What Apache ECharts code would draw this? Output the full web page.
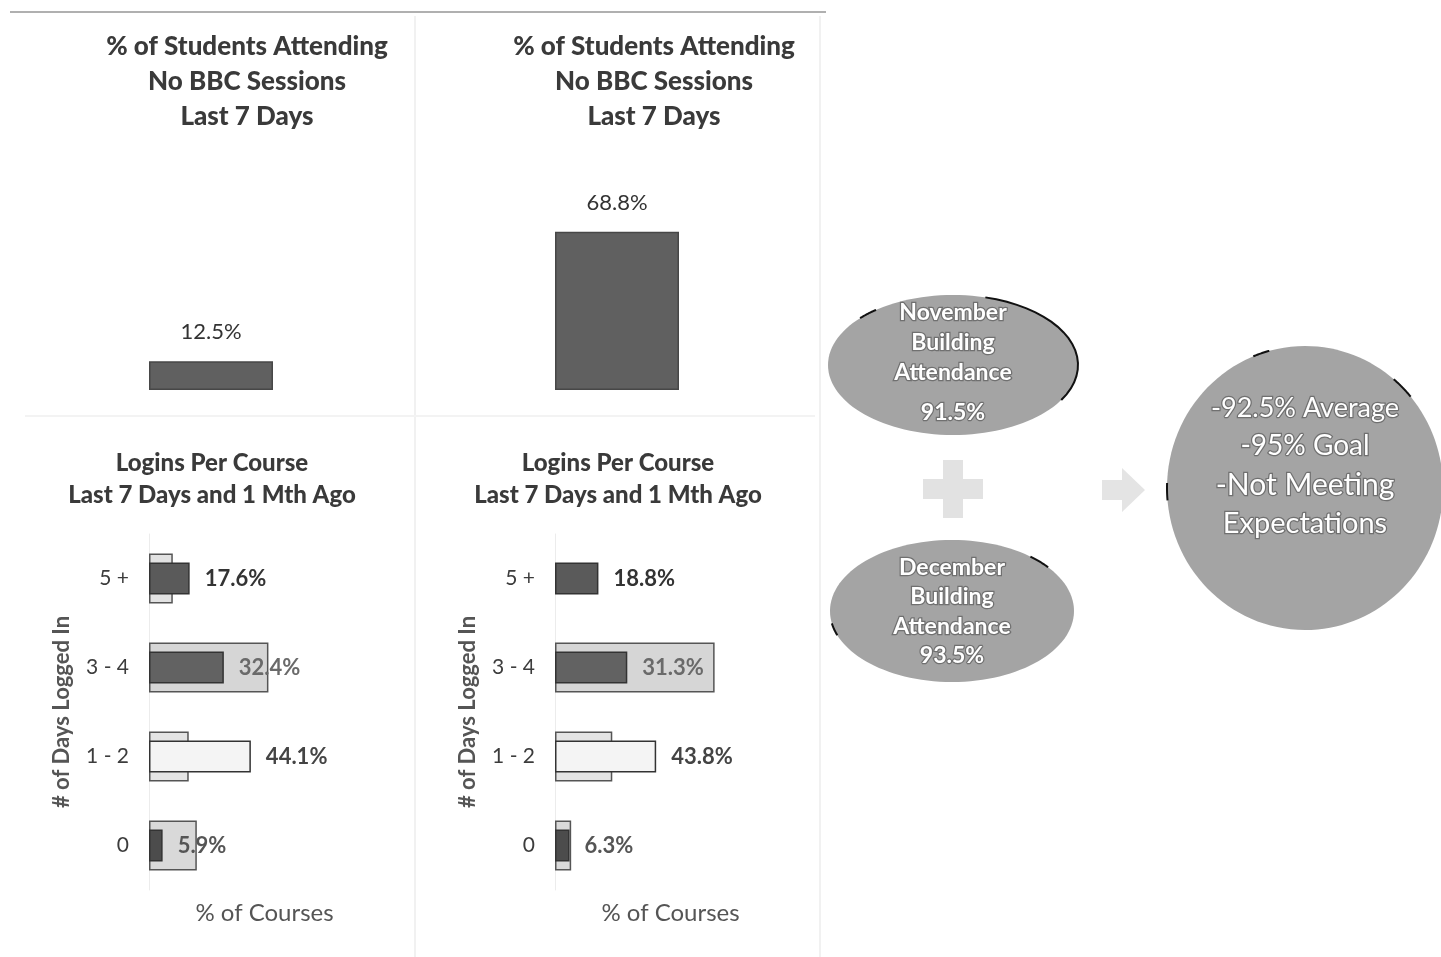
<!DOCTYPE html>
<html>
<head>
<meta charset="utf-8">
<script src="https://cdn.jsdelivr.net/npm/echarts@6/dist/echarts.min.js"></script>
<style>
html,body{margin:0;padding:0;background:#fff;}
#main{width:1441px;height:957px;}
</style>
</head>
<body>
<div id="main"></div>
<script>
// ---- data ----
const noBbcCategory = ['Last 7 Days'];
const noBbcLeft = [12.5];
const noBbcRight = [68.8];
const loginCats = ['5 +', '3 - 4', '1 - 2', '0'];
const leftLast7 = [17.6, 32.4, 44.1, 5.9];
const leftMonthAgo = [10.3, 51.7, 17.2, 20.7];
const rightLast7 = [18.8, 31.3, 43.8, 6.3];
const rightMonthAgo = [0, 69.1, 24.8, 7.0];
const topTitle = '% of Students Attending\nNo BBC Sessions\nLast 7 Days';
const bottomTitle = 'Logins Per Course\nLast 7 Days and 1 Mth Ago';
const novText = ['November', 'Building', 'Attendance', '91.5%'];
const decText = ['December', 'Building', 'Attendance', '93.5%'];
const summaryText = ['-92.5% Average', '-95% Goal', '-Not Meeting', 'Expectations'];

const FONT = 'Lato, "Open Sans", sans-serif';
const frontColors = ['#5a5a5a', '#626262', '#f4f4f4', '#4c4c4c'];
const backColors = ['#e2e2e2', '#d6d6d6', '#e4e4e4', '#d9d9d9'];
const labelColors = ['#333', '#6a6a6a', '#444', '#555'];

const chart = echarts.init(document.getElementById('main'));

function topGrid(left) { return {left: left, width: 242, top: 160, height: 230}; }
function bottomGrid(left) { return {left: left, width: 231, top: 534, height: 356}; }

const titleStyle = (size, lh) => ({fontFamily: FONT, fontWeight: 900, fontSize: size, color: '#3a3a3a', lineHeight: lh});
const titles = [
  {text: topTitle, left: 242, top: 24, textAlign: 'center', textStyle: titleStyle(26, 35)},
  {text: topTitle, left: 649, top: 24, textAlign: 'center', textStyle: titleStyle(26, 35)},
  {text: bottomTitle, left: 207, top: 442, textAlign: 'center', textStyle: titleStyle(24, 32)},
  {text: bottomTitle, left: 613, top: 442, textAlign: 'center', textStyle: titleStyle(24, 32)}
];

const grids = [topGrid(90), topGrid(496), bottomGrid(149), bottomGrid(555)];

const xAxes = [], yAxes = [];
// top charts
[0, 1].forEach(g => {
  xAxes.push({type: 'category', gridIndex: g, data: noBbcCategory, show: false});
  yAxes.push({type: 'value', gridIndex: g, min: 0, max: 100, show: false});
});
// bottom charts: value x axis, two category y axes (front/back) each
[2, 3].forEach(g => {
  xAxes.push({
    type: 'value', gridIndex: g, min: 0, max: 100,
    axisLine: {show: false}, axisTick: {show: false}, axisLabel: {show: false}, splitLine: {show: false},
    name: '% of Courses', nameLocation: 'middle', nameGap: 11,
    nameTextStyle: {fontFamily: FONT, fontSize: 24, color: '#555'}
  });
  yAxes.push({
    type: 'category', gridIndex: g, data: loginCats, inverse: true,
    axisLine: {show: true, lineStyle: {color: '#ececec', width: 1}},
    axisTick: {show: false},
    axisLabel: {fontFamily: FONT, fontSize: 21, color: '#3c3c3c', margin: 20},
    name: '# of Days Logged In', nameLocation: 'middle', nameGap: 76, nameRotate: 90,
    nameTextStyle: {fontFamily: FONT, fontSize: 22, fontWeight: 'bold', color: '#555'}
  });
  yAxes.push({type: 'category', gridIndex: g, data: loginCats, inverse: true, show: false});
});
// yAxis indices: 0 top-left, 1 top-right, 2 bl-front, 3 bl-back, 4 br-front, 5 br-back

function topSeries(idx, data) {
  return {
    type: 'bar', xAxisIndex: idx, yAxisIndex: idx, data: data, barWidth: 124,
    itemStyle: {color: '#606060', borderColor: '#474747', borderWidth: 1.5},
    label: {show: true, position: 'top', distance: 18, fontFamily: FONT, fontSize: 22, color: '#333',
      formatter: p => p.value.toFixed(1) + '%'}
  };
}

function backSeries(xi, yi, data) {
  return {
    type: 'bar', xAxisIndex: xi, yAxisIndex: yi, barWidth: 50, z: 2,
    data: data.map((v, i) => ({value: v, itemStyle: {color: backColors[i], borderColor: '#555', borderWidth: v > 0 ? 1.5 : 0}})),
    label: {show: false}
  };
}
function frontSeries(xi, yi, data) {
  return {
    type: 'bar', xAxisIndex: xi, yAxisIndex: yi, barWidth: 32, z: 3,
    data: data.map((v, i) => ({
      value: v,
      itemStyle: {color: frontColors[i], borderColor: '#333', borderWidth: 1.5},
      label: {color: labelColors[i]}
    })),
    label: {show: true, position: 'right', distance: 15, fontFamily: FONT, fontSize: 22, fontWeight: 'bold',
      formatter: p => p.value.toFixed(1) + '%'}
  };
}

const series = [
  topSeries(0, noBbcLeft),
  topSeries(1, noBbcRight),
  backSeries(2, 3, leftMonthAgo),
  frontSeries(2, 2, leftLast7),
  backSeries(3, 5, rightMonthAgo),
  frontSeries(3, 4, rightLast7)
];

// ---- decorative shapes (right panel, separators) ----
function ellipseArc(cx, cy, rx, ry, a0, a1) {
  const pts = [];
  for (let k = 0; k <= 20; k++) {
    const a = (a0 + (a1 - a0) * k / 20) * Math.PI / 180;
    pts.push([cx + rx * Math.cos(a), cy + ry * Math.sin(a)]);
  }
  return {type: 'polyline', shape: {points: pts}, style: {stroke: '#111', lineWidth: 2, fill: null}, z: 20};
}
function lineTexts(lines, x, ys, sizes, weight) {
  return lines.map((t, i) => ({
    type: 'text', x: x, y: ys[i], z: 30,
    style: {text: t, fill: '#fff', stroke: '#707070', lineWidth: 2.5,
      font: weight + ' ' + (Array.isArray(sizes) ? sizes[i] : sizes) + 'px ' + FONT,
      align: 'center', verticalAlign: 'middle'}
  }));
}
const ellFill = '#a4a4a4';
const graphics = [
  {type: 'line', shape: {x1: 10, y1: 12, x2: 826, y2: 12}, style: {stroke: '#b0b0b0', lineWidth: 2}},
  {type: 'line', shape: {x1: 415, y1: 16, x2: 415, y2: 957}, style: {stroke: '#f1f1f1', lineWidth: 2}},
  {type: 'line', shape: {x1: 820, y1: 16, x2: 820, y2: 957}, style: {stroke: '#f1f1f1', lineWidth: 2}},
  {type: 'line', shape: {x1: 25, y1: 416, x2: 815, y2: 416}, style: {stroke: '#f3f3f3', lineWidth: 2}},
  {type: 'ellipse', shape: {cx: 953, cy: 365, rx: 125, ry: 70}, style: {fill: ellFill}, z: 10},
  {type: 'ellipse', shape: {cx: 952, cy: 611, rx: 122, ry: 71}, style: {fill: ellFill}, z: 10},
  {type: 'ellipse', shape: {cx: 1305, cy: 488, rx: 138, ry: 142}, style: {fill: ellFill}, z: 10},
  ellipseArc(953, 365, 125, 70, -75, 30),
  ellipseArc(953, 365, 125, 70, 222, 232),
  ellipseArc(952, 611, 122, 71, 160, 170),
  ellipseArc(952, 611, 122, 71, -50, -38),
  ellipseArc(1305, 488, 138, 142, -112, -105),
  ellipseArc(1305, 488, 138, 142, -50, -40),
  ellipseArc(1305, 488, 138, 142, 175, 182),
  {type: 'rect', shape: {x: 943, y: 460, width: 20, height: 58}, style: {fill: '#e2e2e2'}, z: 10},
  {type: 'rect', shape: {x: 923, y: 479, width: 60, height: 20}, style: {fill: '#e2e2e2'}, z: 10},
  {type: 'polygon', shape: {points: [[1102, 480], [1122, 480], [1122, 468], [1145, 490], [1122, 512], [1122, 500], [1102, 500]]},
    style: {fill: '#e4e4e4'}, z: 10}
].concat(
  lineTexts(novText, 953, [313, 343, 373, 413], 23, 'bold'),
  lineTexts(decText, 952, [568, 597, 627, 656], 23, 'bold'),
  lineTexts(summaryText, 1305, [408, 446, 485, 524], [27, 28, 30, 29], 'normal')
);

chart.setOption({
  animation: false,
  backgroundColor: '#fff',
  title: titles,
  grid: grids,
  xAxis: xAxes,
  yAxis: yAxes,
  series: series,
  graphic: graphics
});
</script>
</body>
</html>
